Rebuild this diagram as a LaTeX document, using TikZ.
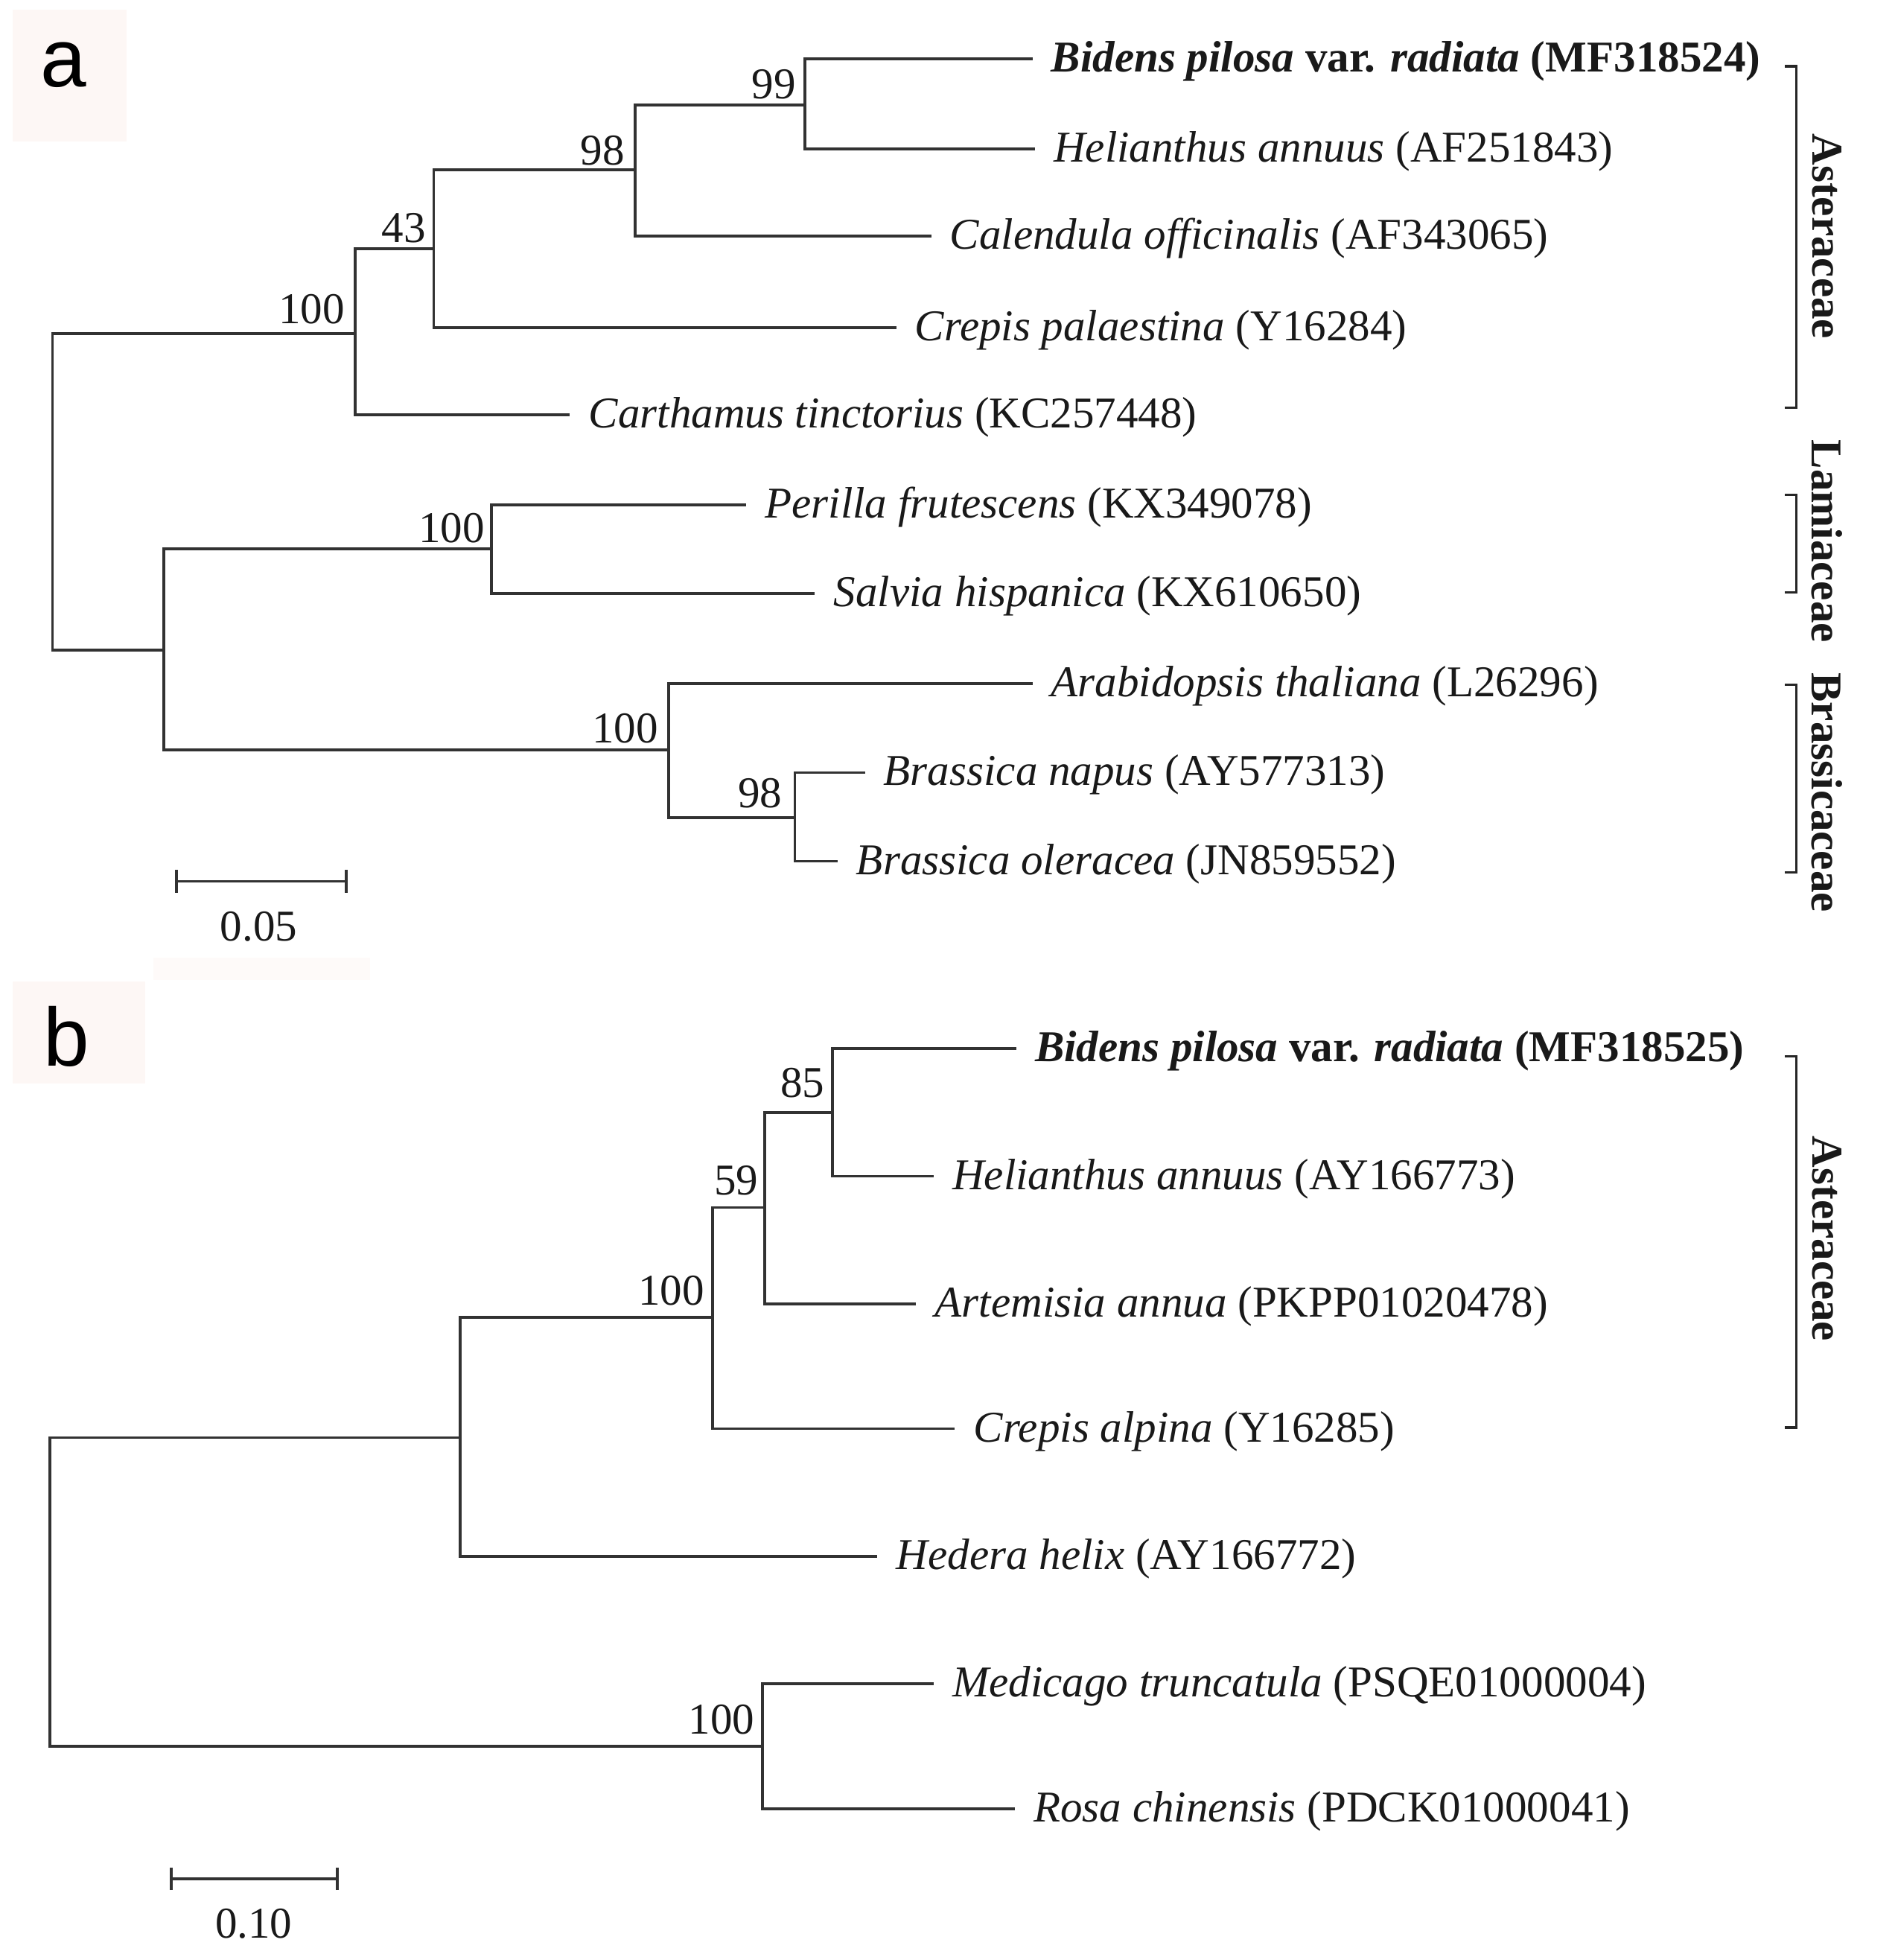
\documentclass[tikz,border=0pt]{standalone}
\usepackage{fontspec}
\setmainfont{Liberation Serif}
\newfontfamily\panelfont{Liberation Sans}
\definecolor{labbg}{RGB}{253,247,245}
\definecolor{branchcol}{RGB}{50,50,50}
\definecolor{txtcol}{RGB}{25,25,25}
\begin{document}
\begin{tikzpicture}[x=0.01678cm, y=-0.01678cm,
  br/.style={line width=1.05pt, draw=branchcol},
  leaf/.style={anchor=west, inner xsep=7pt, inner ysep=0pt, text height=1.2em, text depth=0.2em,
    font=\fontsize{16.8}{20}\selectfont, text=txtcol},
  boot/.style={anchor=base east, inner sep=0pt, font=\fontsize{16.8}{20}\selectfont, text=txtcol},
  fam/.style={rotate=-90, inner sep=0pt, font=\fontsize{16.8}{20}\selectfont\bfseries, text=txtcol},
  bracket/.style={line width=0.9pt, draw=black!85},
  panel/.style={inner sep=0pt, font=\panelfont\fontsize{31.5}{34}\selectfont, text=black},
  scaletxt/.style={inner sep=0pt, font=\fontsize{16.8}{20}\selectfont, text=txtcol}]
\useasboundingbox (0,0) rectangle (1516,1568);
\fill[white] (0,0) rectangle (1516,1568);
% faint label backgrounds
\fill[labbg] (10,8) rectangle (101,113);
\fill[labbg] (10,785) rectangle (116,867);
\fill[labbg!60] (123,766) rectangle (296,784);
\node[panel] (la) at (51,52) {a};
\node[panel] (lb) at (53,829) {b};

% ---------------- panel a ----------------
\coordinate (rA) at (42,393);
\coordinate (n100a) at (284,267);
\coordinate (n43) at (347,199);
\coordinate (n98a) at (508,136);
\coordinate (n99) at (644,84);
\coordinate (nB) at (131,520);
\coordinate (nLam) at (393,439);
\coordinate (nBra) at (535,600);
\coordinate (n98b) at (636,654);

\node[leaf] (Bid) at (826,47) {\textbf{\textit{Bidens pilosa} var. \textit{radiata} (MF318524)}};
\node[leaf] (Hel) at (828,119) {\textit{Helianthus annuus} (AF251843)};
\node[leaf] (Cal) at (745,189) {\textit{Calendula officinalis} (AF343065)};
\node[leaf] (Cre) at (717,262) {\textit{Crepis palaestina} (Y16284)};
\node[leaf] (Car) at (456,332) {\textit{Carthamus tinctorius} (KC257448)};
\node[leaf] (Per) at (597,404) {\textit{Perilla frutescens} (KX349078)};
\node[leaf] (Sal) at (652,475) {\textit{Salvia hispanica} (KX610650)};
\node[leaf] (Ara) at (826,547) {\textit{Arabidopsis thaliana} (L26296)};
\node[leaf] (Bna) at (692,618) {\textit{Brassica napus} (AY577313)};
\node[leaf] (Bol) at (670,689) {\textit{Brassica oleracea} (JN859552)};

\draw[br] (rA) |- (n100a);
\draw[br] (rA) |- (nB);
\draw[br] (n100a) |- (n43);
\draw[br] (n100a) |- (Car.west);
\draw[br] (n43) |- (n98a);
\draw[br] (n43) |- (Cre.west);
\draw[br] (n98a) |- (n99);
\draw[br] (n98a) |- (Cal.west);
\draw[br] (n99) |- (Bid.west);
\draw[br] (n99) |- (Hel.west);
\draw[br] (nB) |- (nLam);
\draw[br] (nB) |- (nBra);
\draw[br] (nLam) |- (Per.west);
\draw[br] (nLam) |- (Sal.west);
\draw[br] (nBra) |- (Ara.west);
\draw[br] (nBra) |- (n98b);
\draw[br] (n98b) |- (Bna.west);
\draw[br] (n98b) |- (Bol.west);

\node[boot] (s99) at ([shift={(-7,-5)}]n99) {99};
\node[boot] (s98a) at ([shift={(-8,-4)}]n98a) {98};
\node[boot] (s43) at ([shift={(-6,-5)}]n43) {43};
\node[boot] (s100a) at ([shift={(-8,-8)}]n100a) {100};
\node[boot] (sLam) at ([shift={(-5,-5)}]nLam) {100};
\node[boot] (sBra) at ([shift={(-8,-6)}]nBra) {100};
\node[boot] (s98b) at ([shift={(-10,-8)}]n98b) {98};

% scale bar a
\coordinate (sa1) at (141,705);
\coordinate (sa2) at (277,705);
\draw[br] ([yshift=-9*0.01678cm]sa1) -- ([yshift=9*0.01678cm]sa1);
\draw[br] ([yshift=-9*0.01678cm]sa2) -- ([yshift=9*0.01678cm]sa2);
\draw[br] (sa1) -- (sa2);
\node[scaletxt] (sca) at (207,741) {0.05};

% family brackets a
\draw[bracket] (1428,53) -- (1437,53) -- (1437,326) -- (1428,326);
\draw[bracket] (1428,396) -- (1437,396) -- (1437,474) -- (1428,474);
\draw[bracket] (1428,548) -- (1437,548) -- (1437,698) -- (1428,698);
\node[fam] (fAst) at (1462,189) {Asteraceae};
\node[fam] (fLam) at (1462,433) {Lamiaceae};
\node[fam] (fBra) at (1462,634) {Brassicaceae};

% ---------------- panel b ----------------
\coordinate (rB) at (40,1273);
\coordinate (nUp) at (368,1150);
\coordinate (n100c) at (570,1054);
\coordinate (n59) at (612,966);
\coordinate (n85) at (666,890);
\coordinate (nRos) at (610,1397);

\node[leaf] (Bid2) at (813,839) {\textbf{\textit{Bidens pilosa} var. \textit{radiata} (MF318525)}};
\node[leaf] (Hel2) at (747,941) {\textit{Helianthus annuus} (AY166773)};
\node[leaf] (Art) at (733,1043) {\textit{Artemisia annua} (PKPP01020478)};
\node[leaf] (Cra) at (764,1143) {\textit{Crepis alpina} (Y16285)};
\node[leaf] (Hed) at (702,1245) {\textit{Hedera helix} (AY166772)};
\node[leaf] (Med) at (747,1347) {\textit{Medicago truncatula} (PSQE01000004)};
\node[leaf] (Ros) at (812,1447) {\textit{Rosa chinensis} (PDCK01000041)};

\draw[br] (rB) |- (nUp);
\draw[br] (rB) |- (nRos);
\draw[br] (nUp) |- (n100c);
\draw[br] (nUp) |- (Hed.west);
\draw[br] (n100c) |- (n59);
\draw[br] (n100c) |- (Cra.west);
\draw[br] (n59) |- (n85);
\draw[br] (n59) |- (Art.west);
\draw[br] (n85) |- (Bid2.west);
\draw[br] (n85) |- (Hel2.west);
\draw[br] (nRos) |- (Med.west);
\draw[br] (nRos) |- (Ros.west);

\node[boot] (s85) at ([shift={(-6,-12)}]n85) {85};
\node[boot] (s59) at ([shift={(-5,-10)}]n59) {59};
\node[boot] (s100c) at ([shift={(-6,-10)}]n100c) {100};
\node[boot] (s100r) at ([shift={(-6,-10)}]nRos) {100};

% scale bar b
\coordinate (sb1) at (137,1503);
\coordinate (sb2) at (270,1503);
\draw[br] ([yshift=-9*0.01678cm]sb1) -- ([yshift=9*0.01678cm]sb1);
\draw[br] ([yshift=-9*0.01678cm]sb2) -- ([yshift=9*0.01678cm]sb2);
\draw[br] (sb1) -- (sb2);
\node[scaletxt] (scb) at (203,1539) {0.10};

% family bracket b
\draw[bracket] (1428,845) -- (1437,845) -- (1437,1142) -- (1428,1142);
\node[fam] (fAst2) at (1462,991) {Asteraceae};
\end{tikzpicture}
\end{document}
